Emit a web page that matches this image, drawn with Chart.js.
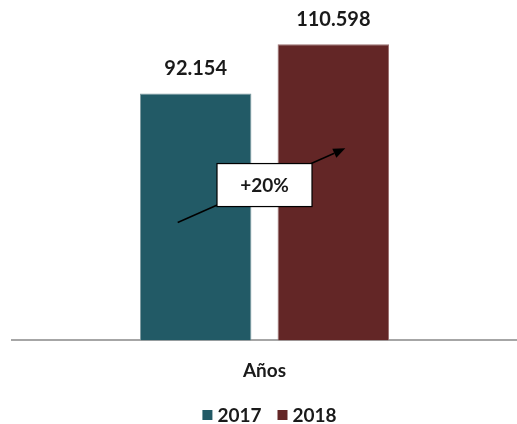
<!DOCTYPE html>
<html><head><meta charset="utf-8">
<script src="https://cdn.jsdelivr.net/npm/chart.js@4"></script>
<style>html,body{margin:0;padding:0;background:#fff;}#wrap{width:517px;height:424px;}</style>
</head><body><div id="wrap"><canvas id="c"></canvas></div>
<script>
const categories = ['Años'];
const seriesNames = ['2017', '2018'];
const values2017 = [92154];
const values2018 = [110598];
const growthLabel = '+20%';
const colors = ['#225A66', '#632626'];
const borders = ['#7f9aa0', '#9a7070'];

function fmt(v){return String(v).replace(/\B(?=(\d{3})+(?!\d))/g,'.');}

const FONT = 'Lato, "Open Sans", sans-serif';
const TEXT = '#1a1a1a';

const labelsPlugin = {
  id:'vals',
  afterDatasetsDraw(chart){
    const ctx = chart.ctx;
    ctx.save();
    ctx.font = 'bold 20px ' + FONT;
    ctx.fillStyle = TEXT;
    ctx.textAlign = 'center';
    ctx.textBaseline = 'middle';
    chart.data.datasets.forEach((ds,i)=>{
      chart.getDatasetMeta(i).data.forEach((bar,j)=>{
        ctx.fillText(fmt(ds.data[j]), bar.x, bar.y - 25);
      });
    });
    // growth arrow + box
    const y = chart.scales.y;
    const b1 = chart.getDatasetMeta(0).data[0];
    const b2 = chart.getDatasetMeta(1).data[0];
    const x0 = b1.x - 18, y0 = y.getPixelForValue(44000);
    const x1 = b2.x + 12, y1 = y.getPixelForValue(71700);
    ctx.strokeStyle = '#000'; ctx.fillStyle = '#000'; ctx.lineWidth = 1.5;
    const ang = Math.atan2(y1-y0, x1-x0);
    const hl = 12, hw = 5;
    const bx = x1 - hl*Math.cos(ang), by = y1 - hl*Math.sin(ang);
    ctx.beginPath(); ctx.moveTo(x0,y0); ctx.lineTo(bx,by); ctx.stroke();
    ctx.beginPath();
    ctx.moveTo(x1,y1);
    ctx.lineTo(bx + hw*Math.sin(ang), by - hw*Math.cos(ang));
    ctx.lineTo(bx - hw*Math.sin(ang), by + hw*Math.cos(ang));
    ctx.closePath(); ctx.fill();
    const cx = (b1.x + b2.x)/2, cy = y.getPixelForValue(58000);
    const w = 95, h = 43;
    ctx.fillStyle = '#fff';
    ctx.fillRect(cx - w/2, cy - h/2, w, h);
    ctx.lineWidth = 1.2; ctx.strokeStyle = '#000';
    ctx.strokeRect(cx - w/2, cy - h/2, w, h);
    ctx.fillStyle = TEXT;
    ctx.font = 'bold 19px ' + FONT;
    ctx.fillText(growthLabel, cx, cy + 1);
    ctx.restore();
  }
};

const legendPlugin = {
  id:'customLegend',
  afterDraw(chart){
    const ctx = chart.ctx;
    ctx.save();
    ctx.font = 'bold 19px ' + FONT;
    ctx.textBaseline = 'middle';
    ctx.textAlign = 'left';
    const box = 10, gapBT = 5, gapItems = 16;
    const items = chart.data.datasets.map(ds => ({label: ds.label, color: ds.backgroundColor, tw: ctx.measureText(ds.label).width}));
    const total = items.reduce((s,it)=>s + box + gapBT + it.tw, 0) + gapItems*(items.length-1);
    let x = (chart.chartArea.left + chart.chartArea.right)/2 - total/2 + 5;
    const yc = 415;
    items.forEach(it=>{
      ctx.fillStyle = it.color;
      ctx.fillRect(x, yc - box/2, box, box);
      x += box + gapBT;
      ctx.fillStyle = TEXT;
      ctx.fillText(it.label, x, yc + 1);
      x += it.tw + gapItems;
    });
    ctx.restore();
  }
};

new Chart(document.getElementById('c'), {
  type:'bar',
  data:{
    labels: categories,
    datasets:[
      {label: seriesNames[0], data: values2017, backgroundColor: colors[0], borderColor: borders[0], borderWidth: 1},
      {label: seriesNames[1], data: values2018, backgroundColor: colors[1], borderColor: borders[1], borderWidth: 1}
    ]
  },
  options:{
    responsive:true, maintainAspectRatio:false, animation:false,
    categoryPercentage:0.545, barPercentage:0.81,
    layout:{padding:{left:12, right:0, top:19, bottom:23.6}},
    plugins:{
      legend:{display:false},
      tooltip:{enabled:false}
    },
    scales:{
      y:{display:false, min:0, max:120000},
      x:{
        grid:{display:false, drawTicks:false},
        border:{display:true, color:'#a6a6a6', width:2},
        ticks:{color:TEXT, padding:18.6, font:{family:FONT, size:19, weight:'bold', lineHeight:1.2}}
      }
    }
  },
  plugins:[labelsPlugin, legendPlugin]
});
</script></body></html>
